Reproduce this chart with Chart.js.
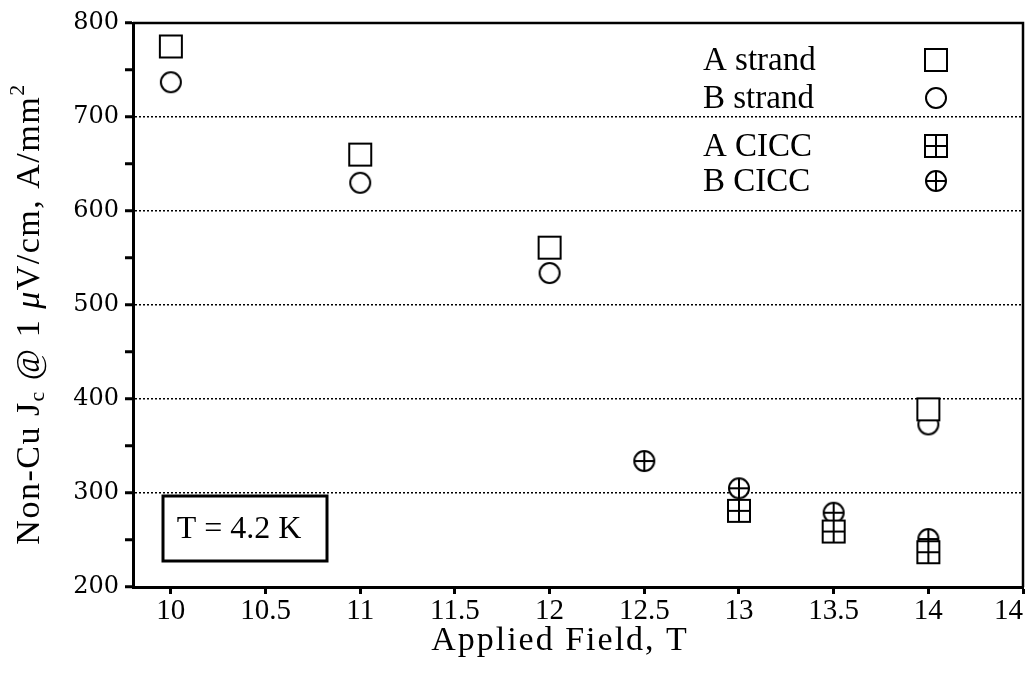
<!DOCTYPE html>
<html lang="en">
<head>
  <meta charset="UTF-8">
  <title>Non-Cu Jc vs Applied Field</title>
  <script src="https://cdn.jsdelivr.net/npm/chart.js"></script>
  <style>
    html, body { margin: 0; padding: 0; background: #fff; }
    #wrap { width: 1028px; height: 675px; }
  </style>
</head>
<body>
  <div id="wrap"><canvas id="jcChart" width="1028" height="675"></canvas></div>

  <script>
    // Applied field (T) and non-Cu critical current density (A/mm^2)
    const aStrandField = [10, 11, 12, 14];
    const aStrandJc = [775, 660, 561, 389];
    const bStrandField = [10, 11, 12, 14];
    const bStrandJc = [737, 630, 534, 373];
    const aCiccField = [13, 13.5, 14];
    const aCiccJc = [281, 259, 237];
    const bCiccField = [12.5, 13, 13.5, 14];
    const bCiccJc = [334, 305, 279, 251];

    const seriesNames = ['A strand', 'B strand', 'A CICC', 'B CICC'];
    const xTitle = 'Applied Field, T';
    const tempLabel = 'T = 4.2 K';

    // small offscreen canvases used as point styles
    function makeMarker(kind) {
      const c = document.createElement('canvas');
      c.width = 26; c.height = 26;
      const g = c.getContext('2d');
      g.strokeStyle = '#000';
      g.fillStyle = '#fff';
      g.lineWidth = 2;
      const m = 13;
      if (kind === 'square' || kind === 'squarePlus') {
        g.fillRect(2, 2, 22, 22);
        g.strokeRect(2, 2, 22, 22);
      } else {
        g.beginPath();
        g.arc(m, m, 10, 0, Math.PI * 2);
        g.fill();
        g.stroke();
      }
      if (kind === 'squarePlus' || kind === 'circlePlus') {
        const e = kind === 'squarePlus' ? 11 : 10;
        g.beginPath();
        g.moveTo(m, m - e); g.lineTo(m, m + e);
        g.moveTo(m - e, m); g.lineTo(m + e, m);
        g.stroke();
      }
      return c;
    }

    const markers = [
      makeMarker('square'),
      makeMarker('circle'),
      makeMarker('squarePlus'),
      makeMarker('circlePlus')
    ];

    const toPoints = (xs, ys) => xs.map((x, i) => ({ x: x, y: ys[i] }));

    // plot frame on the top and right sides
    const framePlugin = {
      id: 'frame',
      beforeDatasetsDraw(chart) {
        const { ctx, chartArea: a } = chart;
        ctx.save();
        ctx.strokeStyle = '#000';
        ctx.lineWidth = 2.5;
        ctx.beginPath();
        ctx.moveTo(a.left, a.top);
        ctx.lineTo(a.right, a.top);
        ctx.lineTo(a.right, a.bottom);
        ctx.stroke();
        ctx.restore();
      }
    };

    // legend (text then symbol) and the temperature box
    const notesPlugin = {
      id: 'notes',
      afterDatasetsDraw(chart) {
        const ctx = chart.ctx;
        const rows = [60, 98, 146, 181];
        ctx.save();
        ctx.fillStyle = '#000';
        ctx.font = '33px "Liberation Serif"';
        ctx.textBaseline = 'middle';
        ctx.textAlign = 'left';
        seriesNames.forEach((name, i) => {
          ctx.fillText(name, 703, rows[i] + 1);
          const mk = markers[i];
          ctx.drawImage(mk, 936 - mk.width / 2, rows[i] - mk.height / 2);
        });

        ctx.lineWidth = 3;
        ctx.strokeStyle = '#000';
        ctx.strokeRect(163, 496, 164, 65);
        ctx.font = '32px "Liberation Serif"';
        ctx.textAlign = 'center';
        ctx.fillText(tempLabel, 239, 530);
        ctx.restore();
      }
    };

    // axis titles; the y one carries a subscript and a superscript
    const titlesPlugin = {
      id: 'titles',
      afterDraw(chart) {
        const ctx = chart.ctx;
        ctx.save();
        ctx.fillStyle = '#000';
        ctx.textBaseline = 'middle';

        ctx.letterSpacing = '2px';
        ctx.font = '34px "Liberation Serif"';
        ctx.textAlign = 'center';
        ctx.fillText(xTitle, 560, 641);

        const base = '34px "Liberation Serif"';
        const small = '22px "Liberation Serif"';
        const ital = 'italic 34px "Liberation Serif"';
        const parts = [
          { t: 'Non-Cu J', f: base, dy: 0 },
          { t: 'c', f: small, dy: 8 },
          { t: ' @ 1 ', f: base, dy: 0 },
          { t: '\u03bc', f: ital, dy: 0 },
          { t: 'V/cm, A/mm', f: base, dy: 0 },
          { t: '2', f: small, dy: -12 }
        ];
        ctx.letterSpacing = '1.5px';
        ctx.textAlign = 'left';
        let total = 0;
        parts.forEach(p => { ctx.font = p.f; p.w = ctx.measureText(p.t).width; total += p.w; });
        ctx.translate(30, 314);
        ctx.rotate(-Math.PI / 2);
        let x = -total / 2;
        parts.forEach(p => {
          ctx.font = p.f;
          ctx.fillText(p.t, x, p.dy);
          x += p.w;
        });
        ctx.restore();
      }
    };

    const config = {
      type: 'scatter',
      data: {
        datasets: [
          { label: seriesNames[0], data: toPoints(aStrandField, aStrandJc), pointStyle: markers[0] },
          { label: seriesNames[1], data: toPoints(bStrandField, bStrandJc), pointStyle: markers[1] },
          { label: seriesNames[2], data: toPoints(aCiccField, aCiccJc), pointStyle: markers[2] },
          { label: seriesNames[3], data: toPoints(bCiccField, bCiccJc), pointStyle: markers[3] }
        ]
      },
      options: {
        responsive: false,
        animation: false,
        elements: { point: { radius: 12, hoverRadius: 12 } },
        layout: { autoPadding: false, padding: { top: 23, right: 5, bottom: 0, left: 0 } },
        plugins: {
          legend: { display: false },
          tooltip: { enabled: false }
        },
        scales: {
          x: {
            type: 'linear',
            min: 9.8,
            max: 14.5,
            ticks: {
              stepSize: 0.5,
              includeBounds: false,
              autoSkip: false,
              maxRotation: 0,
              color: '#000',
              padding: 0,
              font: { family: 'Liberation Serif', size: 29 },
              // last tick is printed as "14", nudged left of the edge
              callback: v => v === 14.5 ? '14\u2003' : String(v)
            },
            grid: { drawOnChartArea: false, tickLength: 7, tickWidth: 3, tickColor: '#000' },
            border: { color: '#000', width: 3 },
            afterFit(s) { s.height = 88; s.paddingLeft = 0; s.paddingRight = 0; }
          },
          y: {
            min: 200,
            max: 800,
            ticks: {
              stepSize: 50,
              autoSkip: false,
              color: '#000',
              padding: 6,
              font: { family: 'DejaVu Serif', size: 24 },
              callback: v => v % 100 === 0 ? String(v) : ''
            },
            grid: {
              color: c => (c.tick && c.tick.value % 100 === 0) ? '#000' : 'rgba(0,0,0,0)',
              lineWidth: 1.5,
              tickLength: 8,
              tickWidth: 3,
              tickColor: '#000'
            },
            border: { color: '#000', width: 3, dash: [2, 2] },
            afterFit(s) { s.width = 133; s.paddingTop = 0; s.paddingBottom = 0; }
          }
        }
      },
      plugins: [framePlugin, notesPlugin, titlesPlugin]
    };

    new Chart(document.getElementById('jcChart'), config);
  </script>
</body>
</html>
